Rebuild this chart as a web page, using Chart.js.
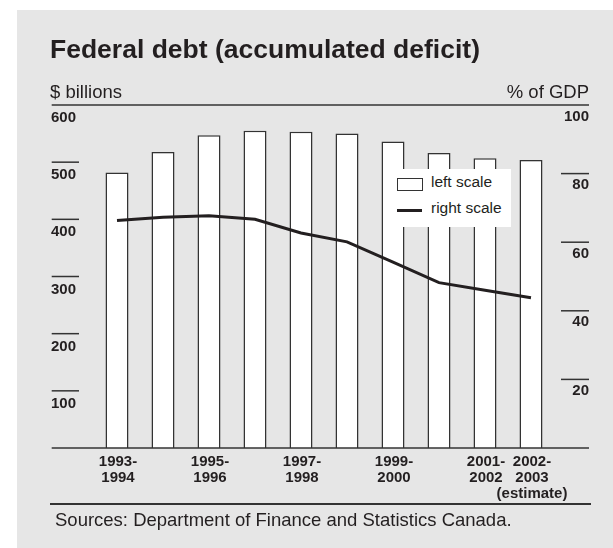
<!DOCTYPE html>
<html>
<head>
<meta charset="utf-8">
<title>Federal debt (accumulated deficit)</title>
<script src="https://cdn.jsdelivr.net/npm/chart.js"></script>
<style>
  html, body { margin: 0; padding: 0; background: #fff; }
  body { width: 613px; height: 548px; position: relative; overflow: hidden;
         font-family: "Liberation Sans", Arial, Helvetica, sans-serif; color: #231f20; }
  #panel { position: absolute; left: 17px; top: 10px; right: 0; bottom: 0; background: #e6e6e6; }
  #debtChart { position: absolute; left: 0; top: 0; }
  .txt { position: absolute; white-space: nowrap; }
  #title { left: 50px; top: 36px; font-size: 26.5px; line-height: 26.5px; font-weight: bold; }
  #unitLeft { left: 50px; top: 82.6px; font-size: 18.5px; line-height: 18.5px; }
  #unitRight { right: 24px; top: 82.6px; font-size: 18.5px; line-height: 18.5px; }
  #rule { position: absolute; left: 50px; top: 503px; width: 541px; height: 1.5px; background: #333; }
  #source { left: 55px; top: 511px; font-size: 18.5px; line-height: 18.5px; }
  #legend { position: absolute; left: 393px; top: 169px; width: 118px; height: 58px; background: #fff; }
  #legend .item { position: absolute; left: 0; font-size: 15.5px; line-height: 15.5px; }
  #legend .swatch { position: absolute; left: 4px; box-sizing: border-box; }
  #legend .label { position: absolute; left: 38px; white-space: nowrap; }
</style>
</head>
<body>
<div id="panel"></div>
<canvas id="debtChart" width="613" height="548"></canvas>
<div class="txt" id="title">Federal debt (accumulated deficit)</div>
<div class="txt" id="unitLeft">$ billions</div>
<div class="txt" id="unitRight">% of GDP</div>
<div id="legend"></div>
<div id="rule"></div>
<div class="txt" id="source">Sources: Department of Finance and Statistics Canada.</div>

<script>
// fiscal years, 1993-94 to 2002-03
var years = ['1993-1994', '1994-1995', '1995-1996', '1996-1997', '1997-1998',
             '1998-1999', '1999-2000', '2000-2001', '2001-2002', '2002-2003'];
// labels printed under the axis (every other year, plus the estimate)
var yearLabels = [['1993-', '1994'], '', ['1995-', '1996'], '', ['1997-', '1998'],
                  '', ['1999-', '2000'], '', ['2001-', '2002'], ['2002-', '2003', '(estimate)']];
// debt in $ billions (left scale)
var debtBillions = [482, 518, 547, 555, 553, 550, 536, 516, 507, 504];
// debt as % of GDP (right scale)
var debtPctGdp = [66.3, 67.3, 67.7, 66.7, 62.7, 60.1, 54.2, 48.2, 46.0, 43.8];

var leftTicks = { min: 0, max: 600, step: 100 };
var rightTicks = { min: 0, max: 100, step: 20 };

var ink = '#231f20';
var tickFont = { family: 'Liberation Sans', size: 15, weight: 'bold' };

// top rule, baseline and the short dashes over each scale label
var axisLines = {
    id: 'axisLines',
    afterDraw: function(chart) {
        var ctx = chart.ctx;
        var yl = chart.scales.y;
        var yr = chart.scales.y1;
        ctx.save();
        ctx.strokeStyle = '#333';
        ctx.lineWidth = 1.5;
        function seg(x1, y, x2) {
            ctx.beginPath();
            ctx.moveTo(x1, y);
            ctx.lineTo(x2, y);
            ctx.stroke();
        }
        yl.ticks.forEach(function(t) {
            if (t.value === leftTicks.min || t.value === leftTicks.max) return;
            seg(yl.left + 0.7, yl.getPixelForValue(t.value), yl.left + 28);
        });
        yr.ticks.forEach(function(t) {
            if (t.value === rightTicks.min || t.value === rightTicks.max) return;
            seg(yr.right - 28, yr.getPixelForValue(t.value), yr.right);
        });
        seg(yl.left + 0.7, yl.getPixelForValue(leftTicks.max), yr.right);
        seg(yl.left + 0.7, yl.getPixelForValue(leftTicks.min), yr.right);
        ctx.restore();
    }
};

var ctx = document.getElementById('debtChart').getContext('2d');
var debtChart = new Chart(ctx, {
    type: 'bar',
    data: {
        labels: years,
        datasets: [{
            type: 'line',
            label: 'right scale',
            data: debtPctGdp,
            yAxisID: 'y1',
            borderColor: ink,
            borderWidth: 3,
            pointRadius: 0,
            tension: 0,
            fill: false,
            order: 1
        }, {
            type: 'bar',
            label: 'left scale',
            data: debtBillions,
            yAxisID: 'y',
            backgroundColor: '#ffffff',
            borderColor: '#333',
            borderWidth: 1.5,
            categoryPercentage: 1,
            barPercentage: 0.5,
            order: 2
        }]
    },
    options: {
        responsive: false,
        animation: false,
        devicePixelRatio: 1,
        layout: { padding: { left: 51, right: 24, top: 105, bottom: 40 } },
        plugins: {
            legend: { display: false },
            tooltip: { enabled: false }
        },
        scales: {
            x: {
                offset: true,
                grid: { display: false, drawTicks: false },
                border: { display: false },
                ticks: {
                    autoSkip: false,
                    maxRotation: 0,
                    padding: 6,
                    labelOffset: 1,
                    color: ink,
                    font: { family: 'Liberation Sans', size: 15, weight: 'bold', lineHeight: '16px' },
                    callback: function(value, index) { return yearLabels[index]; }
                },
                afterFit: function(scale) { scale.height = 60; }
            },
            y: {
                position: 'left',
                min: leftTicks.min,
                max: leftTicks.max,
                grid: { display: false, drawTicks: false },
                border: { display: false },
                ticks: {
                    stepSize: leftTicks.step,
                    crossAlign: 'far',
                    labelOffset: 13,
                    color: ink,
                    font: tickFont,
                    callback: function(v) { return v === 0 ? '' : v; }
                },
                afterFit: function(scale) { scale.width = 43; }
            },
            y1: {
                position: 'right',
                min: rightTicks.min,
                max: rightTicks.max,
                grid: { display: false, drawTicks: false },
                border: { display: false },
                ticks: {
                    stepSize: rightTicks.step,
                    crossAlign: 'far',
                    labelOffset: 11.5,
                    color: ink,
                    font: tickFont,
                    callback: function(v) { return v === 0 ? '' : v; }
                },
                afterFit: function(scale) { scale.width = 35; }
            }
        }
    },
    plugins: [axisLines]
});

// legend box, bars first then the line
function buildLegend(chart) {
    var box = document.getElementById('legend');
    var sets = chart.data.datasets.slice().sort(function(a, b) { return b.order - a.order; });
    sets.forEach(function(ds, i) {
        var item = document.createElement('div');
        item.className = 'item';
        item.style.top = (i === 0 ? 5.2 : 31.2) + 'px';
        var sw = document.createElement('div');
        sw.className = 'swatch';
        if (ds.type === 'bar') {
            sw.style.top = '4px';
            sw.style.width = '26px';
            sw.style.height = '13px';
            sw.style.background = ds.backgroundColor;
            sw.style.border = ds.borderWidth + 'px solid ' + ds.borderColor;
        } else {
            sw.style.top = '8.5px';
            sw.style.width = '25px';
            sw.style.height = ds.borderWidth + 'px';
            sw.style.background = ds.borderColor;
        }
        var lbl = document.createElement('span');
        lbl.className = 'label';
        lbl.textContent = ds.label;
        item.appendChild(sw);
        item.appendChild(lbl);
        box.appendChild(item);
    });
}
buildLegend(debtChart);
</script>
</body>
</html>
